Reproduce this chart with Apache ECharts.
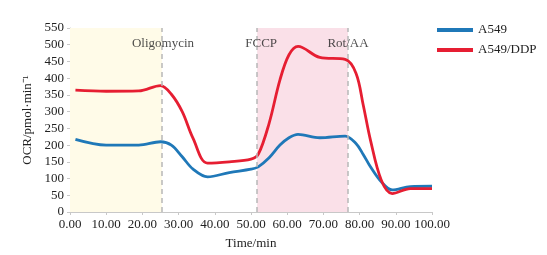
<!DOCTYPE html>
<html>
<head>
<meta charset="utf-8">
<script src="https://cdn.jsdelivr.net/npm/echarts@6/dist/echarts.min.js"></script>
<style>html,body{margin:0;padding:0;background:#fff}#c{width:547px;height:255px}</style>
</head>
<body>
<div id="c"></div>
<script>
var times = [1.5, 10, 19, 25, 28, 31, 34, 38, 44, 50, 52, 55, 58, 60.5, 63, 69, 76, 79, 81, 83, 86, 89, 94, 100];
var a549  = [217, 200, 200, 210, 200, 165, 128, 105, 118, 128, 135, 162, 200, 222, 232, 222, 227, 205, 172, 135, 90, 66, 76, 77];
var ddp   = [364, 361, 362, 378, 352, 300, 220, 146, 150, 158, 172, 265, 395, 470, 495, 462, 456, 415, 320, 215, 95, 55, 70, 70];
var seriesNames = ['A549', 'A549/DDP'];
var injections = [25.4, 51.7, 76.8];
var injectionNames = ['Oligomycin', 'FCCP', 'Rot/AA'];
var injectionLabelX = [25.7, 52.8, 76.8];

var font = 'Liberation Serif, Times New Roman, serif';
var chart = echarts.init(document.getElementById('c'), null, {renderer: 'canvas'});

function zip(xs, ys) { return xs.map(function (x, i) { return [x, ys[i]]; }); }

chart.setOption({
  animation: false,
  textStyle: {fontFamily: font},
  grid: {left: 70, right: 115, top: 28, bottom: 42},
  legend: {
    orient: 'vertical', left: 437, top: 23, icon: 'rect', padding: 0,
    itemWidth: 36, itemHeight: 4, itemGap: 6,
    textStyle: {fontFamily: font, fontSize: 13, color: '#222', lineHeight: 14},
    data: seriesNames
  },
  xAxis: {
    type: 'value', min: 0, max: 100, interval: 10,
    name: 'Time/min', nameLocation: 'middle', nameGap: 25,
    nameTextStyle: {fontFamily: font, fontSize: 13, color: '#222'},
    axisLine: {show: true, lineStyle: {color: '#c8c8c8', width: 1}},
    axisTick: {show: true, length: 3, lineStyle: {color: '#c8c8c8'}},
    axisLabel: {fontFamily: font, fontSize: 13, color: '#222', margin: 6,
      formatter: function (v) { return v.toFixed(2); }},
    splitLine: {show: false}
  },
  yAxis: {
    type: 'value', min: 0, max: 550, interval: 50,
    name: 'OCR/pmol\u00b7min\u207b\u00b9', nameLocation: 'middle', nameGap: 36, nameRotate: 90,
    nameTextStyle: {fontFamily: font, fontSize: 13, color: '#222'},
    axisLine: {show: true, lineStyle: {color: '#c8c8c8', width: 1}},
    axisTick: {show: true, length: 3, lineStyle: {color: '#c8c8c8'}},
    axisLabel: {fontFamily: font, fontSize: 13, color: '#222', margin: 6},
    splitLine: {show: false}
  },
  series: [
    {
      name: seriesNames[0], type: 'line', smooth: 0.35, symbol: 'none',
      data: zip(times, a549), z: 3,
      lineStyle: {color: '#1f78b8', width: 2.8}, itemStyle: {color: '#1f78b8'},
      markArea: {
        silent: true,
        data: [
          [{xAxis: 0, itemStyle: {color: '#fffbe8'}}, {xAxis: injections[0]}],
          [{xAxis: injections[1], itemStyle: {color: '#fae0e8'}}, {xAxis: injections[2]}]
        ]
      },
      markLine: {
        silent: true, symbol: 'none', label: {show: false},
        lineStyle: {color: '#b8b8b8', type: [5, 4], width: 1.5},
        data: injections.map(function (x) { return {xAxis: x}; })
      }
    },
    {
      name: seriesNames[1], type: 'line', smooth: 0.35, symbol: 'none',
      data: zip(times, ddp), z: 4,
      lineStyle: {color: '#e61e32', width: 2.8}, itemStyle: {color: '#e61e32'}
    },
    {
      type: 'scatter', symbolSize: 0, silent: true, z: 5,
      data: injectionLabelX.map(function (x, i) { return {value: [x, 502], name: injectionNames[i]}; }),
      label: {show: true, position: 'inside', formatter: function (p) { return p.name; },
        fontFamily: font, fontSize: 13, color: '#222'}
    }
  ]
});
</script>
</body>
</html>
